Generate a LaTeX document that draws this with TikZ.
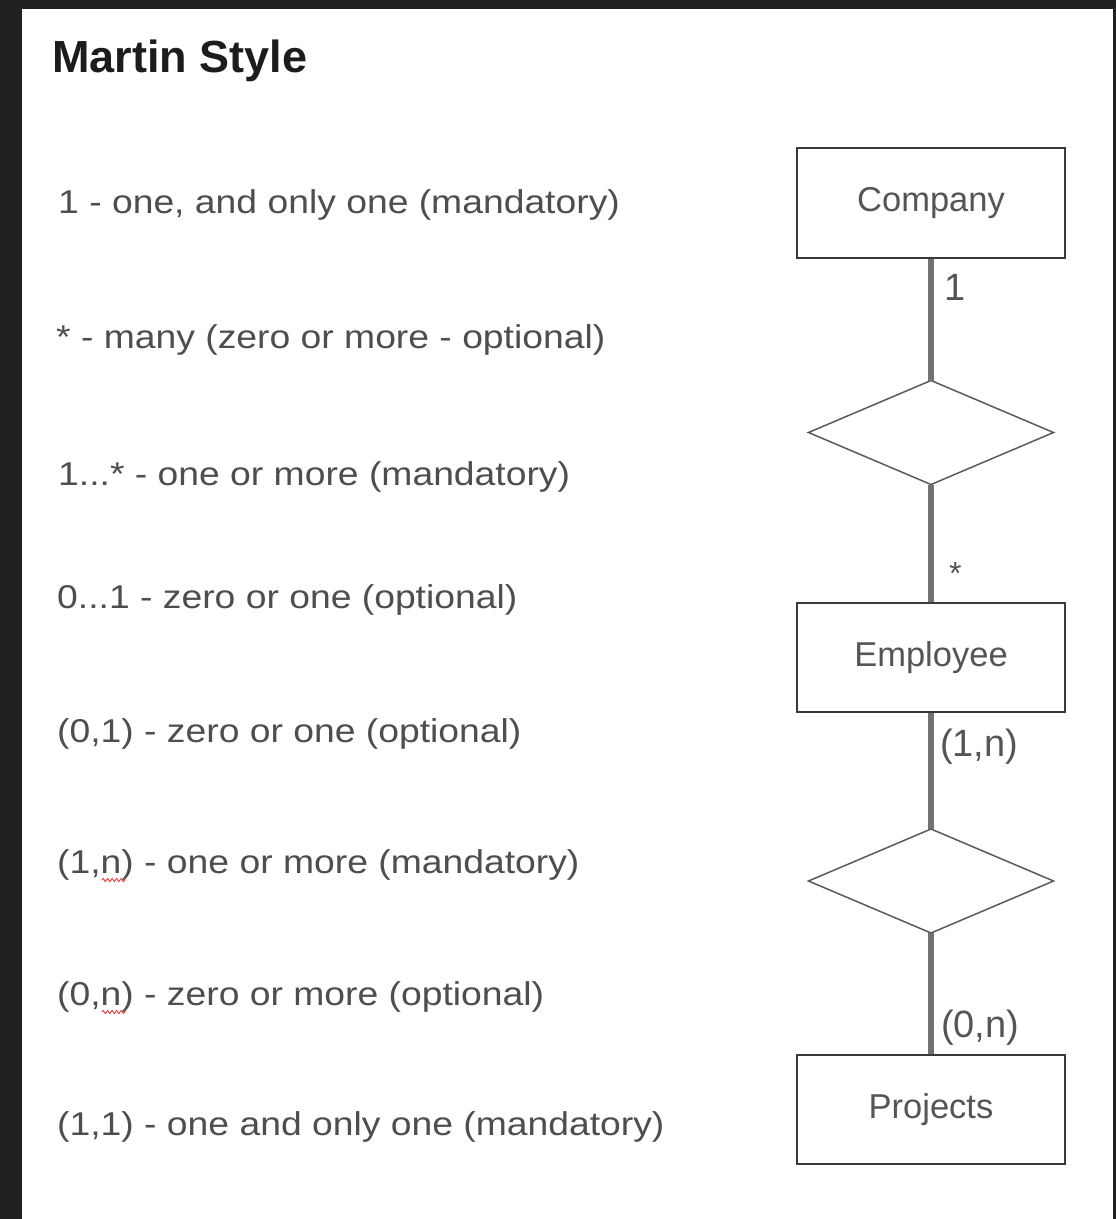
\documentclass[tikz,border=0pt]{standalone}
\usepackage{fontspec}
\setmainfont{Liberation Sans}
\newfontfamily\widesans[FakeStretch=1.13]{Liberation Sans}
\usetikzlibrary{shapes.geometric,decorations.pathmorphing}

\definecolor{frame}{HTML}{212121}
\definecolor{titleink}{HTML}{1C1C1C}
\definecolor{legendink}{HTML}{4E4E4E}
\definecolor{entityink}{HTML}{555555}
\definecolor{boxline}{HTML}{3A3A3A}
\definecolor{relline}{HTML}{5A5A5A}
\definecolor{linkline}{HTML}{727272}
\definecolor{spellred}{HTML}{E04040}

\tikzset{
  legend/.style={anchor=base west, inner sep=0pt, text=legendink,
    font=\widesans\fontsize{33}{40}\selectfont},
  entity/.style={draw=boxline, line width=1.8pt, fill=white,
    minimum width=268pt, minimum height=109pt, inner sep=0pt, outer sep=0pt,
    text=entityink, font=\fontsize{34.5}{41}\selectfont},
  relation/.style={diamond, draw=relline, line width=1.5pt, fill=white,
    minimum width=245pt, minimum height=104pt, inner sep=0pt, outer sep=0pt},
  link/.style={draw=linkline, line width=5.5pt},
  card/.style={anchor=base west, inner sep=0pt, text=entityink,
    font=\fontsize{38}{44}\selectfont},
  squiggle/.style={draw=spellred, line width=0.9pt, decorate,
    decoration={zigzag, segment length=4.5pt, amplitude=1.6pt}}
}

\begin{document}
\begin{tikzpicture}[x=1pt, y=-1pt]
  \useasboundingbox (0,0) rectangle (1116,1219);
  % dark surround and white sheet
  \fill[frame] (0,0) rectangle (1116,1219);
  \fill[white] (22,9) rectangle (1113,1219);

  % heading
  \node[anchor=base west, inner sep=0pt, text=titleink,
        font=\bfseries\fontsize{45}{54}\selectfont] (title) at (52,72) {Martin Style};

  % legend of cardinality notations
  \node[legend] (l1) at (58,213)  {1 - one, and only one (mandatory)};
  \node[legend] (l2) at (56,348)  {* - many (zero or more - optional)};
  \node[legend] (l3) at (58,485)  {1...* - one or more (mandatory)};
  \node[legend] (l4) at (57,608)  {0...1 - zero or one (optional)};
  \node[legend] (l5) at (57,742)  {(0,1) - zero or one (optional)};
  \node[legend] (l6) at (57,873)  {(1,n) - one or more (mandatory)};
  \node[legend] (l7) at (57,1005) {(0,n) - zero or more (optional)};
  \node[legend] (l8) at (57,1135) {(1,1) - one and only one (mandatory)};

  % spell-check marks under the "n"
  \draw[squiggle] (102,880) -- (126,880);
  \draw[squiggle] (102,1012) -- (126,1012);

  % example diagram
  \node[entity, minimum height=110pt] (company) at (931,203) {Company};
  \node[relation] (works) at (931,432.5) {};
  \node[entity] (employee) at (931,657.5) {Employee};
  \node[relation] (assigned) at (931,881) {};
  \node[entity] (projects) at (931,1109.5) {Projects};

  \draw[link] (company.south) -- (works.north);
  \draw[link] (works.south) -- (employee.north);
  \draw[link] (employee.south) -- (assigned.north);
  \draw[link] (assigned.south) -- (projects.north);

  % redraw outlines over the link ends
  \node[entity, minimum height=110pt, fill=none] at (company) {};
  \node[entity, fill=none] at (employee) {};
  \node[entity, fill=none] at (projects) {};

  % cardinalities
  \node[card] (c1) at (944,300) {1};
  \node[card, font=\fontsize{32}{38}\selectfont] (c2) at (949,584) {*};
  \node[card] (c3) at (940,756) {(1,n)};
  \node[card] (c4) at (941,1037) {(0,n)};
\end{tikzpicture}
\end{document}
